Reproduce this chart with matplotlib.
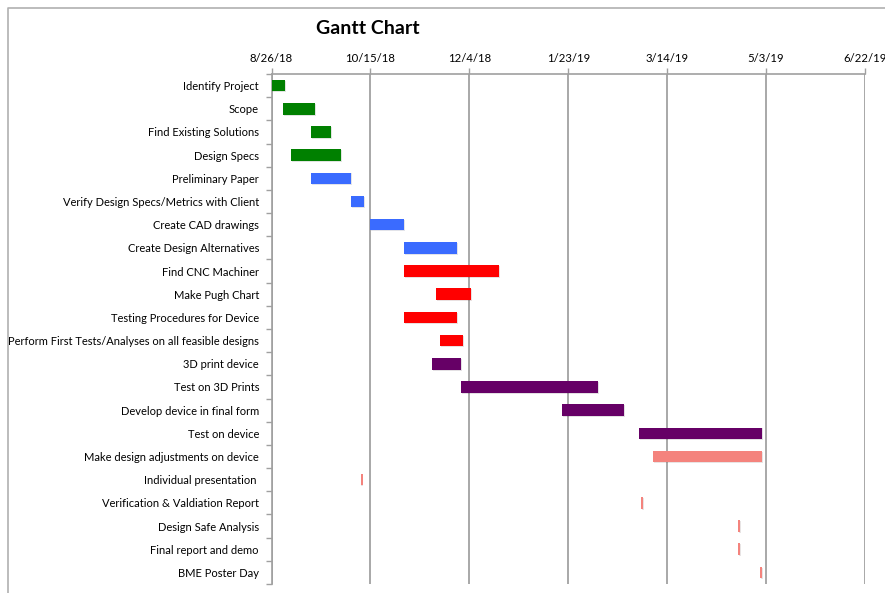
import datetime as dt
import matplotlib
matplotlib.use("Agg")
import matplotlib.pyplot as plt
import matplotlib.dates as mdates
import matplotlib.patheffects as pe
from matplotlib.lines import Line2D

plt.rcParams['font.family'] = ['Lato', 'DejaVu Sans']

# ---- data ----
tasks = [
    "Identify Project", "Scope", "Find Existing Solutions", "Design Specs",
    "Preliminary Paper", "Verify Design Specs/Metrics with Client",
    "Create CAD drawings", "Create Design Alternatives", "Find CNC Machiner",
    "Make Pugh Chart", "Testing Procedures for Device",
    "Perform First Tests/Analyses on all feasible designs", "3D print device",
    "Test on 3D Prints", "Develop device in final form", "Test on device",
    "Make design adjustments on device", "Individual presentation ",
    "Verification & Valdiation Report", "Design Safe Analysis",
    "Final report and demo", "BME Poster Day",
]
start_dates = [
    "2018-08-26", "2018-09-01", "2018-09-15", "2018-09-05",
    "2018-09-15", "2018-10-05", "2018-10-15", "2018-11-01",
    "2018-11-01", "2018-11-17", "2018-11-01", "2018-11-19",
    "2018-11-15", "2018-11-30", "2019-01-20", "2019-02-28",
    "2019-03-07", "2018-10-10", "2019-03-01", "2019-04-19",
    "2019-04-19", "2019-04-30",
]
durations = [7, 16, 10, 25, 20, 7, 17, 27, 48, 18, 27, 12, 15, 69, 31, 62,
             55, 1, 1, 1, 1, 1]
colors = (["#008000"] * 4 + ["#3a6bff"] * 4 + ["#ff0000"] * 4 +
          ["#660066"] * 4 + ["#f4837d"] * 6)

axis_start = dt.date(2018, 8, 26)
axis_end = dt.date(2019, 6, 22)
tick_step = 50

# ---- figure ----
fig = plt.figure(figsize=(8.85, 5.93), dpi=100)
ax = fig.add_axes([271.5 / 885, 1 - 584 / 593, (865 - 271.5) / 885, (584 - 74) / 593])

starts = [mdates.date2num(dt.date.fromisoformat(s)) for s in start_dates]
ypos = list(range(len(tasks)))
bars = ax.barh(ypos, durations, left=starts, height=0.5, color=colors, zorder=3)
for b in bars:
    b.set_path_effects([pe.SimplePatchShadow(offset=(0.7, -0.7), alpha=0.12), pe.Normal()])

x0 = mdates.date2num(axis_start)
x1 = mdates.date2num(axis_end)
ax.set_xlim(x0, x1)
ax.set_ylim(len(tasks) - 0.5, -0.5)

ticks = [x0 + tick_step * i for i in range(7)]
ax.set_xticks(ticks)
labels = []
for t in ticks:
    d = mdates.num2date(t)
    labels.append(f"{d.month}/{d.day}/{d.strftime('%y')}")
ax.set_xticklabels(labels, fontsize=8.2)
ax.xaxis.tick_top()
ax.tick_params(axis='x', length=4, color='#a0a0a0', pad=3.5, width=1)
ax.grid(axis='x', color='#a8a8a8', linewidth=1.4, zorder=0)

ax.set_yticks(ypos)
ax.set_yticklabels(tasks, fontsize=8.0)
ax.set_yticks([y - 0.5 for y in range(len(tasks) + 1)], minor=True)
ax.tick_params(axis='y', which='major', length=0, pad=9)
ax.tick_params(axis='y', which='minor', length=4, color='#a0a0a0', width=1)

for s in ['right', 'bottom']:
    ax.spines[s].set_visible(False)
for s in ['left', 'top']:
    ax.spines[s].set_color('#a0a0a0')
    ax.spines[s].set_linewidth(1.2)

fig.text(368 / 885, 1 - 29 / 593, "Gantt Chart", fontsize=14, fontweight='bold',
         ha='center', va='center')

# outer frame
fig.add_artist(Line2D([8 / 885, 8 / 885, 1.0], [0, 1 - 8 / 593, 1 - 8 / 593],
                      transform=fig.transFigure, color='#b0b0b0', linewidth=1.2))

fig.savefig("out.png", dpi=100)
